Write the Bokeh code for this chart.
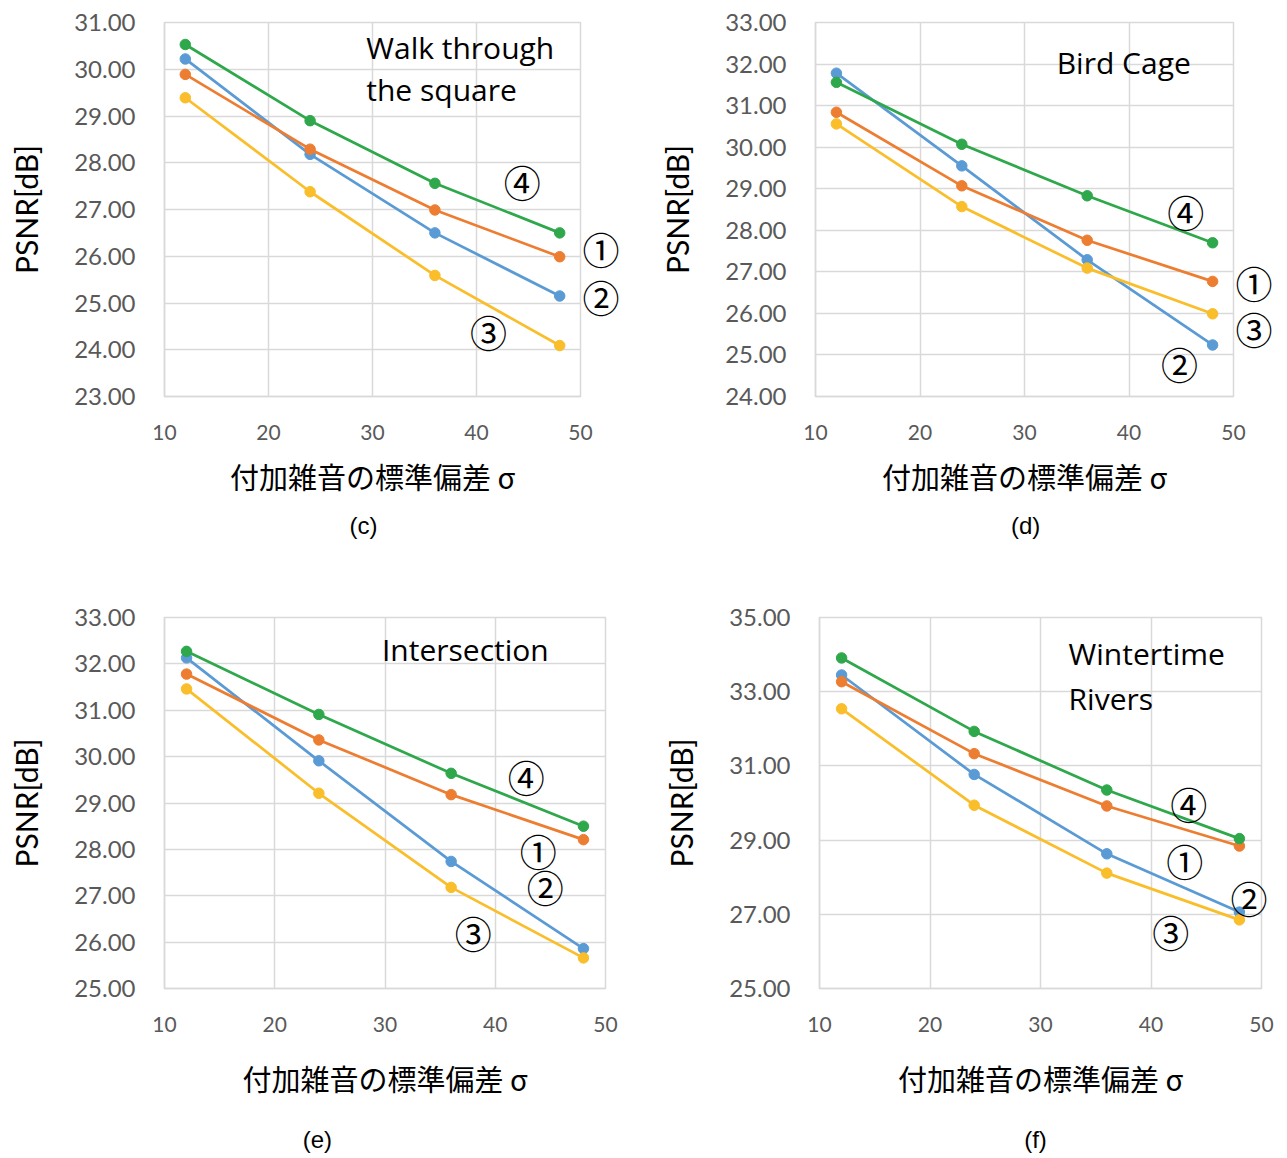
from bokeh.plotting import figure
from bokeh.layouts import column, row
from bokeh.models import FixedTicker, PrintfTickFormatter, Label, Range1d, LinearAxis
from bokeh.embed import file_html
from bokeh.resources import INLINE

# ---------------- data ----------------
sigma = [12, 24, 36, 48]
x_ticks = [10, 20, 30, 40, 50]
x_title = "付加雑音の標準偏差 σ"
y_title = "PSNR[dB]"
series_marks = ["②", "①", "③", "④"]          # blue, orange, yellow, green
series_colors = ["#5B9BD5", "#ED7D31", "#F9BE2A", "#2EA84B"]

# (c) Walk through the square
c_blue = [30.22, 28.18, 26.50, 25.15]
c_orange = [29.89, 28.29, 26.99, 25.99]
c_yellow = [29.39, 27.38, 25.59, 24.09]
c_green = [30.53, 28.90, 27.56, 26.50]
c_yticks = [23, 24, 25, 26, 27, 28, 29, 30, 31]
c_title = ["Walk through", "the square"]

# (d) Bird Cage
d_blue = [31.78, 29.55, 27.29, 25.24]
d_orange = [30.84, 29.07, 27.76, 26.77]
d_yellow = [30.56, 28.57, 27.09, 25.99]
d_green = [31.56, 30.07, 28.83, 27.70]
d_yticks = [24, 25, 26, 27, 28, 29, 30, 31, 32, 33]
d_title = ["Bird Cage"]

# (e) Intersection
e_blue = [32.13, 29.91, 27.74, 25.86]
e_orange = [31.78, 30.36, 29.18, 28.21]
e_yellow = [31.46, 29.21, 27.18, 25.66]
e_green = [32.27, 30.91, 29.64, 28.50]
e_yticks = [25, 26, 27, 28, 29, 30, 31, 32, 33]
e_title = ["Intersection"]

# (f) Wintertime Rivers
f_blue = [33.45, 30.77, 28.63, 27.06]
f_orange = [33.27, 31.33, 29.92, 28.84]
f_yellow = [32.54, 29.94, 28.11, 26.85]
f_green = [33.91, 31.93, 30.35, 29.04]
f_yticks = [25, 27, 29, 31, 33, 35]
f_title = ["Wintertime", "Rivers"]

# annotation positions (data units) : [②, ①, ③, ④]
c_mark_pos = [(51.6, 25.13), (52.2, 26.16), (41.15, 24.39), (44.4, 27.59)]
d_mark_pos = [(44.83, 24.79), (51.83, 26.73), (51.93, 25.62), (45.44, 28.45)]
e_mark_pos = [(44.54, 27.19), (43.9, 27.96), (38.01, 26.19), (42.82, 29.57)]
f_mark_pos = [(48.85, 27.44), (43.05, 28.43), (41.78, 26.53), (43.41, 29.96)]

# caption centre (x in data units)
c_caption = ("(c)", 29.13)
d_caption = ("(d)", 30.11)
e_caption = ("(e)", 23.87)
f_caption = ("(f)", 29.55)

GRID = "#d9d9d9"
TICK_COLOR = "#595959"
MARK_FONT = "Noto Sans CJK JP"
MARK_SIZE = "37px"


def bare_axis(ticks, overrides, standoff, font, size):
    return LinearAxis(ticker=FixedTicker(ticks=ticks),
                      major_label_overrides=overrides,
                      axis_line_color=None, major_tick_line_color=None,
                      minor_tick_line_color=None,
                      major_label_standoff=standoff,
                      major_label_text_font=font,
                      major_label_text_font_size=size,
                      major_label_text_color="black")


def make_panel(width, height, borders, yticks, series, marks_pos, title_lines,
               title_pos, title_align, caption, xlab_standoff,
               cap_standoff, right_standoff):
    left, right, top, bottom = borders
    y0, y1 = yticks[0], yticks[-1]
    p = figure(width=width, height=height,
               x_range=Range1d(10, 50), y_range=Range1d(y0, y1),
               output_backend="svg", toolbar_location=None,
               min_border_left=left, min_border_right=right,
               min_border_top=top, min_border_bottom=bottom)

    p.background_fill_color = "white"
    p.border_fill_color = "white"
    p.outline_line_color = GRID
    p.outline_line_width = 1.5

    p.xaxis.ticker = FixedTicker(ticks=x_ticks)
    p.yaxis.ticker = FixedTicker(ticks=yticks)
    p.yaxis.formatter = PrintfTickFormatter(format="%.2f")
    for ax in (p.xaxis[0], p.yaxis[0]):
        ax.axis_line_color = GRID
        ax.axis_line_width = 1.5
        ax.major_tick_line_color = None
        ax.minor_tick_line_color = None
        ax.major_label_text_color = TICK_COLOR
        ax.major_label_text_font = "Lato"
        ax.axis_label_text_color = "black"
        ax.axis_label_text_font_style = "normal"
    p.yaxis.major_label_text_font_size = "24px"
    p.xaxis.major_label_text_font_size = "21px"
    p.yaxis.major_label_standoff = 23
    p.xaxis.major_label_standoff = 22
    p.yaxis.axis_label = y_title
    p.yaxis.axis_label_text_font = "Lato"
    p.yaxis.axis_label_text_font_size = "30px"
    p.yaxis.axis_label_standoff = 27
    p.xaxis.axis_label = x_title
    p.xaxis.axis_label_text_font = "Noto Sans CJK JP"
    p.xaxis.axis_label_text_font_size = "29px"
    p.xaxis.axis_label_standoff = xlab_standoff

    p.xgrid.grid_line_color = GRID
    p.ygrid.grid_line_color = GRID
    p.xgrid.grid_line_width = 1.5
    p.ygrid.grid_line_width = 1.5

    for vals, col in zip(series, series_colors):
        p.line(sigma, vals, line_color=col, line_width=2.75)
        p.scatter(sigma, vals, size=10.5, fill_color=col, line_color=col)

    # series marks: inside the frame as labels; marks that cross the right
    # edge of the frame are put on a bare axis so they are not clipped
    outside = {}
    for (mx, my), txt in zip(marks_pos, series_marks):
        if mx > 48.4:
            outside[my] = txt
        else:
            p.add_layout(Label(x=mx, y=my, text=txt, text_align="center",
                               text_baseline="middle", text_font=MARK_FONT,
                               text_font_size=MARK_SIZE, text_color="black"))
    if outside:
        p.add_layout(bare_axis(sorted(outside), outside, right_standoff,
                               MARK_FONT, MARK_SIZE), "right")

    tx, ty, dy = title_pos
    for i, line in enumerate(title_lines):
        p.add_layout(Label(x=tx, y=ty - i * dy, text=line, text_align=title_align,
                           text_baseline="middle", text_font="Open Sans",
                           text_font_size="30px", text_color="black"))

    cap_text, cap_x = caption
    p.add_layout(bare_axis([cap_x], {cap_x: cap_text}, cap_standoff,
                           "Liberation Sans", "24px"), "below")
    return p


pc = make_panel(650, 565, (164, 70, 22, 168), c_yticks,
                [c_blue, c_orange, c_yellow, c_green], c_mark_pos, c_title,
                (29.4, 30.46, 0.90), "left", c_caption, 12, 6, -4)
pd_ = make_panel(635, 565, (165, 52, 20, 169), d_yticks,
                 [d_blue, d_orange, d_yellow, d_green], d_mark_pos, d_title,
                 (39.5, 32.04, 0.0), "center", d_caption, 12, 6, -4)
pe = make_panel(650, 592, (164, 45, 50, 169), e_yticks,
                [e_blue, e_orange, e_yellow, e_green], e_mark_pos, e_title,
                (37.29, 32.32, 0.0), "center", e_caption, 22, 18, -4)
pf = make_panel(635, 592, (169, 24, 52, 167), f_yticks,
                [f_blue, f_orange, f_yellow, f_green], f_mark_pos, f_title,
                (32.54, 34.04, 1.21), "left", f_caption, 22, 18, -37)

layout = column(row(pc, pd_), row(pe, pf))
open("out.html", "w").write(file_html(layout, INLINE))
